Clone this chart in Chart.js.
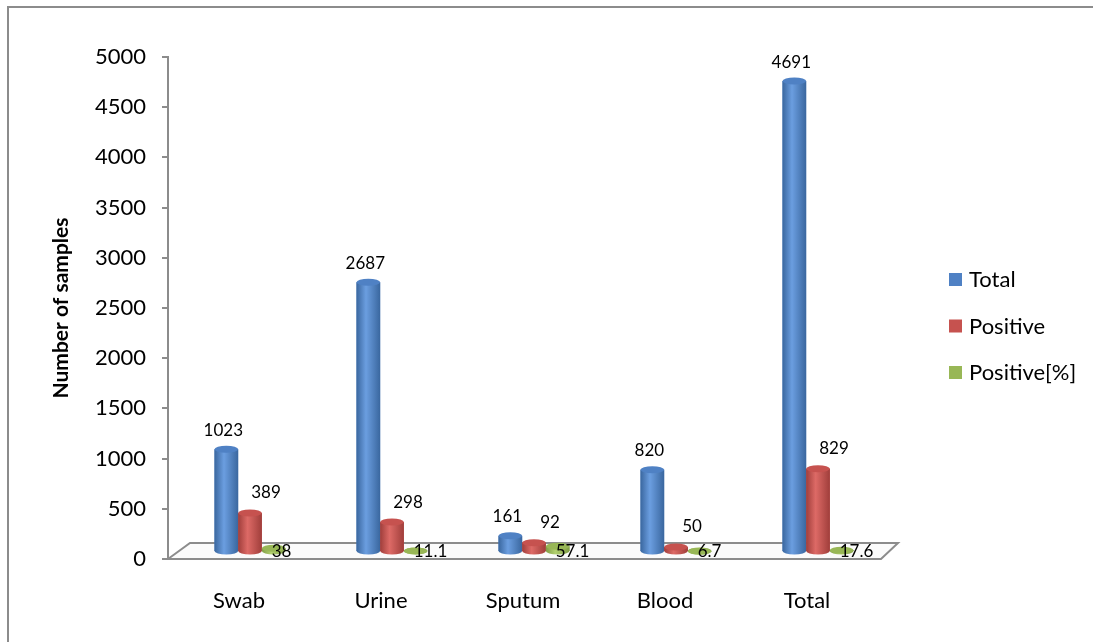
<!DOCTYPE html>
<html>
<head>
<meta charset="utf-8">
<title>Samples</title>
<script src="https://cdn.jsdelivr.net/npm/chart.js@4.4.1/dist/chart.umd.min.js"></script>
<style>
  html, body { margin: 0; padding: 0; background: #fff; }
  #wrap { position: relative; width: 1093px; height: 642px; overflow: hidden; }
  #frame {
    position: absolute; left: 7px; top: 6px; right: -10px; bottom: -10px;
    border-left: 2px solid #8c8c8c; border-top: 2px solid #8c8c8c;
    pointer-events: none;
  }
</style>
</head>
<body>
<div id="wrap">
  <canvas id="samplesChart" width="1093" height="642"></canvas>
  <div id="frame"></div>
</div>
<script>
const categories = ['Swab', 'Urine', 'Sputum', 'Blood', 'Total'];
const totalSamples = [1023, 2687, 161, 820, 4691];
const positiveSamples = [389, 298, 92, 50, 829];
const positivePercent = [38, 11.1, 57.1, 6.7, 17.6];
const seriesNames = ['Total', 'Positive', 'Positive[%]'];

const FONT = 'Lato, "Open Sans", sans-serif';

// edge, highlight, cap colours for each series
const shades = [
    ['#3a679f', '#6b9ee0', '#4f81c4'],
    ['#a03e3b', '#dd6a66', '#c6524f'],
    ['#7f9c45', '#b2d06f', '#98b756']
];

// 3D floor, cylinder shading and value labels
const cylinders = {
    id: 'cylinders',
    beforeDatasetsDraw(chart) {
        const { ctx, chartArea: a } = chart;
        ctx.save();
        ctx.beginPath();
        ctx.moveTo(a.left, a.bottom);
        ctx.lineTo(a.left + 22, a.bottom - 16);
        ctx.lineTo(a.right + 20, a.bottom - 16);
        ctx.lineTo(a.right + 3, a.bottom);
        ctx.closePath();
        ctx.fillStyle = '#fbfbfb';
        ctx.fill();
        ctx.strokeStyle = '#8c8c8c';
        ctx.lineWidth = 2;
        ctx.stroke();
        ctx.restore();

        // bars sit in the middle of the floor depth
        ctx.save();
        ctx.translate(11, -7);
    },
    afterDatasetsDraw(chart) {
        const ctx = chart.ctx;
        const metas = chart.data.datasets.map((d, i) => chart.getDatasetMeta(i));
        const ry = 3.5;

        categories.forEach((c, i) => {
            metas.forEach((meta, di) => {
                const bar = meta.data[i];
                const w = bar.width;
                const left = bar.x - w / 2;
                const s = shades[di];
                const g = ctx.createLinearGradient(left, 0, left + w, 0);
                g.addColorStop(0, s[0]);
                g.addColorStop(0.4, s[1]);
                g.addColorStop(1, s[0]);
                ctx.fillStyle = g;
                ctx.fillRect(left, bar.y, w, bar.base - bar.y);
                ctx.beginPath();
                ctx.ellipse(bar.x, bar.base, w / 2, ry, 0, 0, Math.PI * 2);
                ctx.fill();
                ctx.beginPath();
                ctx.ellipse(bar.x, bar.y, w / 2, ry, 0, 0, Math.PI * 2);
                ctx.fillStyle = s[2];
                ctx.fill();
            });
        });

        // value labels
        ctx.fillStyle = '#000';
        ctx.font = '17px ' + FONT;
        ctx.textBaseline = 'middle';
        metas.forEach((meta, di) => {
            const values = chart.data.datasets[di].data;
            meta.data.forEach((bar, i) => {
                const text = String(values[i]);
                if (di === 0) {
                    ctx.textAlign = 'center';
                    ctx.fillText(text, bar.x - 3, bar.y - 19);
                } else if (di === 1) {
                    ctx.textAlign = 'center';
                    ctx.fillText(text, bar.x + 16, bar.y - 20);
                } else {
                    ctx.textAlign = 'left';
                    ctx.fillText(text, bar.x - 2, bar.base + 1);
                }
            });
        });
        ctx.restore();
    },
    afterDraw(chart) {
        const ctx = chart.ctx;
        const a = chart.chartArea;
        ctx.save();
        ctx.font = '22px ' + FONT;
        ctx.textBaseline = 'middle';
        ctx.textAlign = 'left';
        seriesNames.forEach((name, i) => {
            const y = 280 + i * 46.5;
            ctx.fillStyle = shades[i][2];
            ctx.fillRect(a.right + 71, y - 7, 13, 13);
            ctx.fillStyle = '#000';
            ctx.fillText(name, a.right + 91, y);
        });
        ctx.restore();
    }
};

const ctx = document.getElementById('samplesChart').getContext('2d');
new Chart(ctx, {
    type: 'bar',
    data: {
        labels: categories,
        datasets: [
            { label: seriesNames[0], data: totalSamples, backgroundColor: shades[0][2] },
            { label: seriesNames[1], data: positiveSamples, backgroundColor: shades[1][2] },
            { label: seriesNames[2], data: positivePercent, backgroundColor: shades[2][2] }
        ]
    },
    options: {
        responsive: false,
        animation: false,
        categoryPercentage: 0.5,
        barPercentage: 1.0,
        layout: {
            padding: { top: 57, right: 215, bottom: 0, left: 0 }
        },
        plugins: {
            legend: { display: false },
            tooltip: { enabled: false }
        },
        scales: {
            x: {
                grid: { display: false, drawTicks: false },
                border: { display: false },
                ticks: {
                    color: '#000',
                    padding: 29,
                    font: { family: FONT, size: 22 }
                },
                afterFit(scale) { scale.height = 83; }
            },
            y: {
                min: 0,
                max: 5000,
                ticks: {
                    stepSize: 500,
                    color: '#000',
                    padding: 16,
                    font: { family: FONT, size: 22 },
                    callback: (v) => String(v)
                },
                grid: {
                    drawOnChartArea: false,
                    drawTicks: true,
                    tickLength: 6,
                    color: '#8c8c8c',
                    lineWidth: 2
                },
                border: { color: '#8c8c8c', width: 2 },
                title: {
                    display: true,
                    text: 'Number of samples',
                    color: '#000',
                    padding: { top: 49, bottom: 0 },
                    font: { family: FONT, size: 21, weight: 'bold' }
                },
                afterFit(scale) { scale.width = 168; }
            }
        }
    },
    plugins: [cylinders]
});
</script>
</body>
</html>
